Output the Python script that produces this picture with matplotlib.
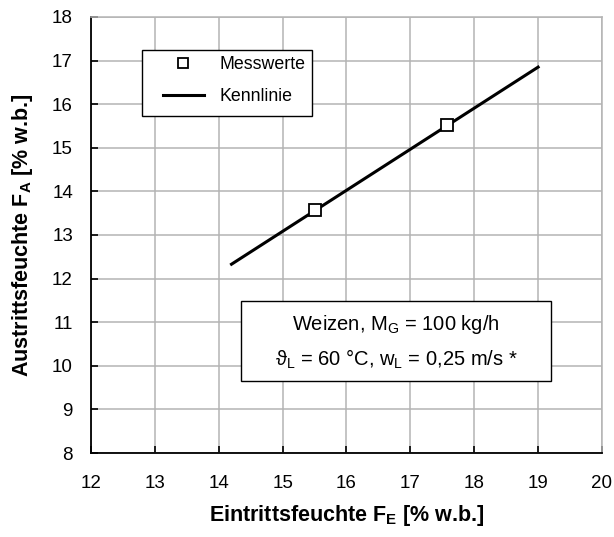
"""Kennlinie Austrittsfeuchte über Eintrittsfeuchte (Weizen)."""

import matplotlib

matplotlib.use("Agg")
import matplotlib.pyplot as plt
from matplotlib.patches import Rectangle

# Messwerte
mess_x = [15.5, 17.58]
mess_y = [13.58, 15.53]

# Kennlinie (Endpunkte)
kenn_x = [14.2, 19.0]
kenn_y = [12.33, 16.85]

x_ticks = [12, 13, 14, 15, 16, 17, 18, 19, 20]
y_ticks = [8, 9, 10, 11, 12, 13, 14, 15, 16, 17, 18]

plt.rcParams["font.family"] = ["Liberation Sans", "DejaVu Sans"]
plt.rcParams["mathtext.fontset"] = "custom"
plt.rcParams["mathtext.rm"] = "Liberation Sans"
plt.rcParams["mathtext.bf"] = "Liberation Sans:bold"
plt.rcParams["mathtext.it"] = "Liberation Sans:italic"

GRID = "#b4b4b4"

fig = plt.figure(figsize=(6.14, 5.37), dpi=100)
ax = fig.add_axes([0.1482, 0.1564, 0.8322, 0.812])

ax.plot(kenn_x, kenn_y, color="black", lw=2.2, label="Kennlinie", zorder=3)
ax.plot(
    mess_x, mess_y, ls="none", marker="s", ms=9, mfc="white", mec="black",
    mew=1.3, label="Messwerte", zorder=4,
)

ax.set_xlim(12, 20)
ax.set_ylim(8, 18)
ax.set_xticks(x_ticks)
ax.set_yticks(y_ticks)
ax.grid(True, color=GRID, lw=1.1)
ax.set_axisbelow(True)
ax.tick_params(direction="in", length=5, width=1.2, labelsize=13.5)
ax.tick_params(axis="x", pad=16)
ax.tick_params(axis="y", pad=13)
for side in ("top", "right"):
    ax.spines[side].set_color(GRID)
    ax.spines[side].set_linewidth(1.1)
for side in ("left", "bottom"):
    ax.spines[side].set_linewidth(1.3)

ax.set_xlabel(r"Eintrittsfeuchte F$_\mathbf{E}$ [% w.b.]", fontsize=15.5,
              fontweight="bold", labelpad=8)
ax.set_ylabel(r"Austrittsfeuchte F$_\mathbf{A}$ [% w.b.]", fontsize=15.5,
              fontweight="bold", labelpad=12)

# Legende ohne eigenen Rahmen, Rahmen als Rechteck
handles, labels = ax.get_legend_handles_labels()
leg = ax.legend(
    handles[::-1], labels[::-1], loc="upper left",
    bbox_to_anchor=(0.141, 0.911), fontsize=12.8, frameon=False,
    borderpad=0, labelspacing=0.85, handlelength=2.3, handletextpad=0.85,
    borderaxespad=0, markerscale=0.75,
)
ax.add_patch(Rectangle((0.0998, 0.773), 0.3327, 0.1514, transform=ax.transAxes,
                       facecolor="white", edgecolor="black", lw=1.0, zorder=4.5))
leg.set_zorder(6)

ax.add_patch(Rectangle((0.2935, 0.165), 0.6065, 0.184, transform=ax.transAxes,
                       facecolor="white", edgecolor="black", lw=1.0, zorder=5))
ax.text(0.597, 0.2936, r"Weizen, M$_\mathrm{G}$ = 100 kg/h", transform=ax.transAxes,
        ha="center", va="center", fontsize=14.5, zorder=6)
ax.text(0.597, 0.2156, r"ϑ$_\mathrm{L}$ = 60 °C, w$_\mathrm{L}$ = 0,25 m/s *",
        transform=ax.transAxes, ha="center", va="center", fontsize=14.5, zorder=6)

fig.savefig("out.png", dpi=100)
